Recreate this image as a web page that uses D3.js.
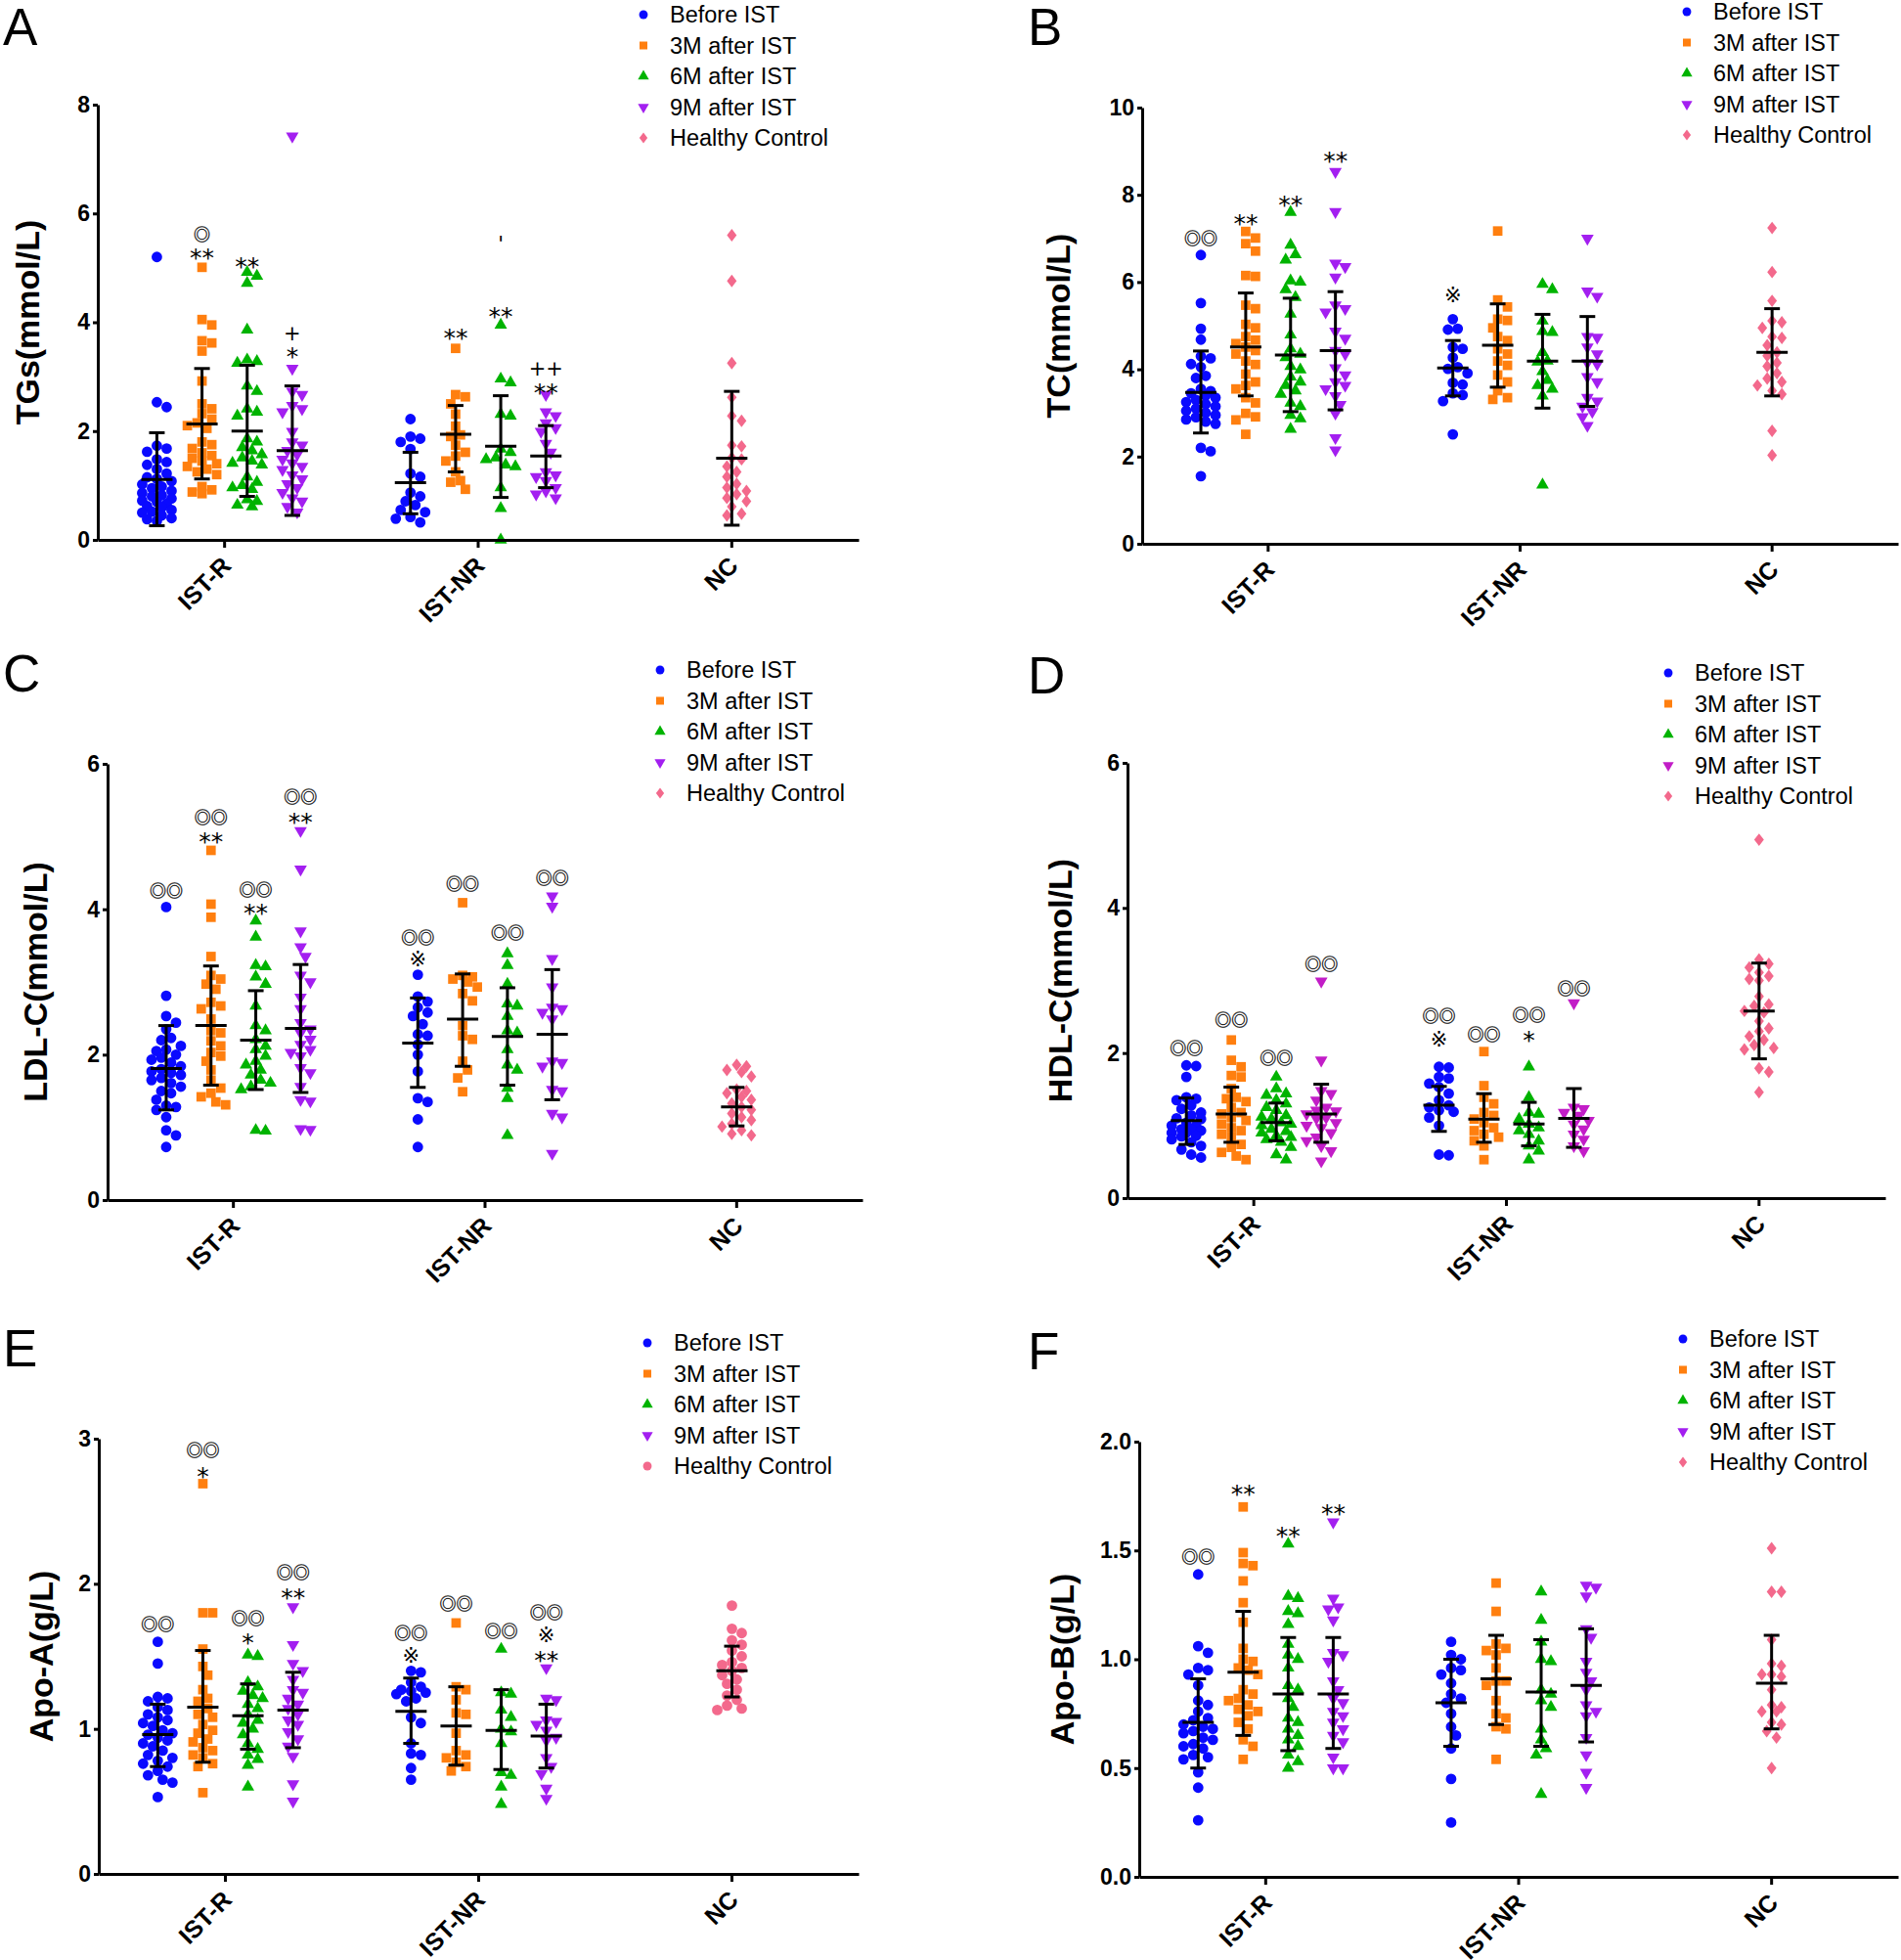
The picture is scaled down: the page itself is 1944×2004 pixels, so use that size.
<!DOCTYPE html>
<html>
<head>
<meta charset="utf-8">
<script src="https://cdn.jsdelivr.net/npm/d3@7"></script>
<style>
  body { margin: 0; background: #fff; }
  svg { display: block; font-family: "Liberation Sans", Arial, sans-serif; }
</style>
</head>
<body>
<script>
const groups = ['IST-R', 'IST-NR', 'NC'];
const seriesNames = ['Before IST', '3M after IST', '6M after IST', '9M after IST', 'Healthy Control'];
const seriesColors = ['#0a0aff', '#ff7f0f', '#00b300', '#a31ff0', '#f3698c'];

// ---- A: TGs ----
const tgR = [
  [5.2, 2.53, 2.44, 1.73, 1.68, 1.62, 1.48, 1.43, 1.38, 1.3, 1.22, 1.15, 1.12, 1.08, 1.02, 0.98, 0.95, 0.9, 0.86, 0.82, 0.8, 0.76, 0.72, 0.7, 0.66, 0.62, 0.6, 0.55, 0.52, 0.5, 0.45, 0.4, 0.38, 0.35],
  [5.01, 4.05, 3.95, 3.66, 3.62, 3.47, 2.92, 2.5, 2.41, 2.32, 2.22, 2.15, 2.1, 2.05, 1.8, 1.75, 1.68, 1.6, 1.55, 1.5, 1.45, 1.4, 1.35, 1.3, 1.25, 1.2, 0.98, 0.92, 0.88, 0.85],
  [4.92, 4.85, 4.72, 3.86, 3.31, 3.28, 3.25, 2.83, 2.73, 2.41, 2.35, 2.28, 1.86, 1.8, 1.7, 1.64, 1.57, 1.51, 1.45, 1.41, 1.38, 1.16, 1.06, 1.0, 0.96, 0.93, 0.74, 0.71, 0.64, 0.61],
  [7.42, 3.15, 2.73, 2.67, 2.47, 2.41, 2.35, 1.99, 1.8, 1.74, 1.64, 1.57, 1.48, 1.41, 1.35, 1.29, 1.19, 1.12, 1.03, 0.96, 0.87, 0.77, 0.71, 0.61, 0.51]
];
const tgNR = [
  [2.22, 1.9, 1.86, 1.8, 1.67, 1.22, 1.16, 0.87, 0.8, 0.71, 0.64, 0.55, 0.51, 0.42, 0.39, 0.32],
  [3.52, 2.67, 2.63, 2.5, 2.31, 2.09, 1.93, 1.9, 1.74, 1.61, 1.54, 1.45, 1.25, 1.09, 1.06, 0.93],
  [3.95, 2.96, 2.89, 2.31, 2.28, 1.67, 1.61, 1.51, 1.48, 1.38, 1.35, 0.96, 0.58, 0.0],
  [2.67, 2.35, 2.28, 2.15, 2.06, 1.99, 1.77, 1.61, 1.25, 1.19, 1.16, 1.09, 0.96, 0.9, 0.84, 0.77]
];
const tgNC = [5.6, 4.76, 3.25, 2.62, 2.28, 2.19, 1.74, 1.72, 1.51, 1.48, 1.35, 1.25, 1.16, 1.03, 0.96, 0.9, 0.84, 0.77, 0.71, 0.61, 0.48, 0.45];
const tgStats = [[1.11, 0.26, 1.97], [2.13, 1.12, 3.15], [2.0, 0.8, 3.21], [1.64, 0.45, 2.83],
  [1.05, 0.48, 1.61], [1.94, 1.25, 2.47], [1.72, 0.78, 2.65], [1.54, 0.96, 2.1], [1.5, 0.27, 2.73]];
const tgNotes = [[1, 5.62, '◎'], [1, 5.31, '**'], [2, 5.15, '**'], [3, 3.8, '+'], [3, 3.5, '*'],
  [5, 3.84, '**'], [6, 4.24, '**'], [6, 5.44, "'"], [7, 3.15, '++'], [7, 2.84, '**']];

// ---- B: TC ----
const tcR = [
  [6.62, 5.52, 4.93, 4.68, 4.3, 4.25, 4.12, 4.05, 3.85, 3.8, 3.55, 3.5, 3.45, 3.4, 3.35, 3.3, 3.25, 3.2, 3.15, 3.1, 3.05, 3.0, 2.95, 2.9, 2.85, 2.8, 2.75, 2.2, 2.12, 1.55],
  [7.16, 7.01, 6.88, 6.71, 6.15, 6.13, 5.47, 5.39, 5.03, 4.95, 4.75, 4.67, 4.59, 4.51, 4.43, 4.35, 4.19, 4.11, 3.89, 3.71, 3.63, 3.55, 3.35, 3.23, 2.99, 2.91, 2.84, 2.51],
  [7.6, 6.85, 6.63, 6.51, 6.03, 6.0, 5.83, 5.65, 5.27, 4.79, 4.47, 4.35, 4.27, 4.07, 3.99, 3.83, 3.71, 3.63, 3.51, 3.43, 3.23, 3.15, 2.95, 2.87, 2.63],
  [8.53, 7.61, 6.43, 6.35, 6.11, 5.47, 5.39, 5.31, 4.87, 4.71, 4.43, 4.35, 4.03, 3.87, 3.71, 3.63, 3.55, 3.39, 3.19, 2.99, 2.43, 2.15]
];
const tcNR = [
  [5.15, 4.93, 4.91, 4.51, 4.47, 4.27, 4.05, 4.01, 3.91, 3.69, 3.65, 3.45, 3.41, 3.27, 2.51],
  [7.17, 5.59, 5.43, 5.15, 5.12, 4.95, 4.75, 4.66, 4.47, 4.35, 4.19, 4.09, 3.87, 3.71, 3.51, 3.35, 3.31],
  [5.95, 5.83, 5.11, 4.87, 4.85, 4.39, 4.19, 4.17, 3.95, 3.75, 3.63, 3.55, 3.39, 1.35],
  [7.0, 5.79, 5.67, 4.75, 4.73, 4.51, 4.35, 4.15, 4.12, 3.83, 3.71, 3.35, 3.27, 3.15, 3.03, 2.91, 2.71]
];
const tcNC = [7.24, 6.23, 5.57, 5.11, 5.08, 4.95, 4.75, 4.72, 4.55, 4.39, 4.31, 4.15, 4.07, 3.91, 3.79, 3.71, 3.63, 3.51, 3.43, 2.59, 2.03];
const tcStats = [[3.47, 2.54, 4.42], [4.51, 3.39, 5.75], [4.33, 3.03, 5.63], [4.43, 3.07, 5.78],
  [4.03, 3.39, 4.66], [4.55, 3.59, 5.5], [4.19, 3.11, 5.26], [4.19, 3.15, 5.21], [4.39, 3.39, 5.39]];
const tcNotes = [[0, 7.0, '◎◎'], [1, 7.49, '**'], [2, 7.92, '**'], [3, 8.94, '**'], [4, 5.7, '※']];

// ---- C: LDL-C ----
const ldlR = [
  [4.03, 2.81, 2.53, 2.44, 2.35, 2.23, 2.2, 2.12, 2.07, 2.05, 2.0, 1.96, 1.93, 1.89, 1.84, 1.8, 1.77, 1.75, 1.72, 1.68, 1.65, 1.61, 1.56, 1.5, 1.47, 1.38, 1.3, 1.28, 1.24, 1.14, 0.96, 0.89, 0.73],
  [4.81, 4.07, 3.89, 3.35, 3.09, 3.04, 2.97, 2.9, 2.72, 2.67, 2.63, 2.49, 2.33, 2.3, 2.19, 2.12, 2.03, 1.98, 1.91, 1.79, 1.65, 1.54, 1.47, 1.42, 1.35, 1.31],
  [3.84, 3.62, 3.23, 3.21, 3.07, 2.97, 2.67, 2.4, 2.33, 2.21, 2.12, 2.07, 1.98, 1.91, 1.86, 1.79, 1.72, 1.65, 1.61, 1.56, 1.52, 0.96, 0.95],
  [5.08, 4.55, 3.7, 3.48, 3.35, 3.09, 3.0, 2.79, 2.63, 2.44, 2.35, 2.3, 2.21, 2.14, 2.07, 2.03, 1.98, 1.82, 1.75, 1.56, 1.38, 1.36, 0.98, 0.97]
];
const ldlNR = [
  [3.1, 2.8, 2.73, 2.65, 2.58, 2.53, 2.42, 2.28, 2.26, 2.14, 2.0, 1.77, 1.4, 1.35, 1.11, 0.73],
  [4.09, 3.09, 3.07, 3.04, 3.0, 2.93, 2.84, 2.74, 2.4, 2.26, 2.21, 1.91, 1.79, 1.68, 1.49],
  [3.39, 3.23, 2.97, 2.7, 2.67, 2.53, 2.33, 2.3, 2.07, 1.86, 1.79, 1.54, 1.4, 0.89],
  [4.18, 4.04, 3.32, 2.93, 2.65, 2.63, 2.58, 2.49, 1.91, 1.89, 1.84, 1.52, 1.5, 1.19, 1.14, 0.64]
];
const ldlNC = [1.86, 1.84, 1.79, 1.76, 1.7, 1.52, 1.5, 1.47, 1.42, 1.38, 1.33, 1.28, 1.24, 1.19, 1.14, 1.1, 1.05, 1.01, 0.96, 0.91, 0.89];
const ldlStats = [[1.81, 1.24, 2.4], [2.4, 1.58, 3.22], [2.2, 1.52, 2.88], [2.36, 1.48, 3.24],
  [2.16, 1.55, 2.78], [2.49, 1.84, 3.11], [2.25, 1.58, 2.92], [2.28, 1.38, 3.17], [1.28, 1.02, 1.55]];
const ldlNotes = [[0, 4.25, '◎◎'], [1, 5.26, '◎◎'], [1, 5.02, '**'], [2, 4.27, '◎◎'], [2, 4.04, '**'],
  [3, 5.55, '◎◎'], [3, 5.29, '**'], [4, 3.61, '◎◎'], [4, 3.32, '※'], [5, 4.35, '◎◎'], [6, 3.68, '◎◎'], [7, 4.43, '◎◎']];

// ---- D: HDL-C ----
const hdlR = [
  [1.83, 1.82, 1.67, 1.39, 1.37, 1.35, 1.28, 1.23, 1.18, 1.14, 1.1, 1.09, 1.04, 1.0, 1.0, 0.95, 0.95, 0.93, 0.9, 0.9, 0.86, 0.85, 0.81, 0.77, 0.72, 0.67, 0.6, 0.56],
  [2.18, 1.9, 1.81, 1.69, 1.67, 1.51, 1.39, 1.37, 1.33, 1.25, 1.18, 1.16, 1.11, 1.07, 1.02, 0.97, 0.93, 0.88, 0.84, 0.74, 0.7, 0.63, 0.58, 0.53],
  [1.67, 1.51, 1.44, 1.42, 1.35, 1.3, 1.25, 1.21, 1.14, 1.12, 1.09, 1.04, 1.02, 1.0, 0.95, 0.92, 0.9, 0.86, 0.84, 0.81, 0.77, 0.7, 0.6, 0.53],
  [2.99, 1.9, 1.48, 1.44, 1.35, 1.25, 1.21, 1.2, 1.16, 1.11, 1.1, 1.04, 1.0, 0.97, 0.9, 0.84, 0.79, 0.72, 0.65, 0.51]
];
const hdlNR = [
  [1.81, 1.8, 1.67, 1.65, 1.58, 1.53, 1.44, 1.35, 1.28, 1.25, 1.21, 1.19, 1.11, 1.0, 0.6, 0.59],
  [2.02, 1.55, 1.39, 1.3, 1.18, 1.14, 1.09, 1.04, 0.97, 0.93, 0.88, 0.84, 0.79, 0.72, 0.53],
  [1.81, 1.39, 1.18, 1.16, 1.09, 1.02, 0.97, 0.93, 0.88, 0.79, 0.72, 0.65, 0.53],
  [2.69, 1.25, 1.23, 1.18, 1.14, 1.07, 1.02, 0.95, 0.88, 0.81, 0.72, 0.65]
];
const hdlNC = [4.94, 3.29, 3.23, 3.18, 3.11, 3.06, 3.02, 3.0, 2.78, 2.67, 2.65, 2.58, 2.56, 2.44, 2.34, 2.3, 2.23, 2.18, 2.11, 2.07, 2.05, 1.79, 1.74, 1.46];
const hdlStats = [[1.07, 0.74, 1.38], [1.16, 0.77, 1.53], [1.04, 0.79, 1.31], [1.16, 0.77, 1.57],
  [1.28, 0.92, 1.54], [1.09, 0.77, 1.44], [1.02, 0.72, 1.32], [1.1, 0.7, 1.51], [2.58, 1.92, 3.24]];
const hdlNotes = [[0, 2.06, '◎◎'], [1, 2.46, '◎◎'], [2, 1.93, '◎◎'], [3, 3.23, '◎◎'], [4, 2.51, '◎◎'], [4, 2.19, '※'],
  [5, 2.26, '◎◎'], [6, 2.52, '◎◎'], [6, 2.27, '*'], [7, 2.89, '◎◎']];

// ---- E: Apo-A ----
const apoaR = [
  [1.6, 1.45, 1.22, 1.21, 1.19, 1.15, 1.13, 1.1, 1.08, 1.06, 1.04, 1.02, 0.99, 0.97, 0.96, 0.94, 0.92, 0.9, 0.88, 0.85, 0.82, 0.8, 0.78, 0.76, 0.74, 0.71, 0.68, 0.65, 0.63, 0.53],
  [2.69, 1.8, 1.8, 1.55, 1.43, 1.37, 1.27, 1.21, 1.19, 1.14, 1.1, 1.08, 1.03, 0.99, 0.97, 0.93, 0.91, 0.87, 0.85, 0.82, 0.8, 0.76, 0.74, 0.56],
  [1.51, 1.5, 1.32, 1.29, 1.26, 1.23, 1.21, 1.17, 1.14, 1.1, 1.06, 1.04, 1.0, 0.96, 0.9, 0.86, 0.82, 0.79, 0.75, 0.6],
  [1.84, 1.58, 1.45, 1.4, 1.34, 1.27, 1.25, 1.21, 1.17, 1.14, 1.1, 1.06, 1.03, 0.98, 0.93, 0.88, 0.81, 0.62, 0.5]
];
const apoaNR = [
  [1.4, 1.39, 1.32, 1.29, 1.27, 1.26, 1.25, 1.24, 1.21, 1.19, 1.08, 1.04, 0.9, 0.83, 0.82, 0.73, 0.65],
  [1.73, 1.29, 1.27, 1.2, 1.11, 1.1, 0.97, 0.85, 0.82, 0.8, 0.77, 0.74, 0.71],
  [1.55, 1.25, 1.24, 1.13, 1.08, 1.0, 0.98, 0.9, 0.7, 0.68, 0.6, 0.48],
  [1.42, 1.21, 1.2, 1.06, 1.05, 1.03, 0.99, 0.94, 0.92, 0.8, 0.74, 0.69, 0.59, 0.52]
];
const apoaNC = [1.85, 1.69, 1.66, 1.61, 1.58, 1.54, 1.5, 1.46, 1.44, 1.42, 1.4, 1.37, 1.34, 1.31, 1.27, 1.23, 1.2, 1.16, 1.14, 1.13];
const apoaStats = [[0.96, 0.74, 1.17], [1.15, 0.77, 1.54], [1.09, 0.86, 1.31], [1.13, 0.87, 1.39],
  [1.12, 0.9, 1.35], [1.02, 0.75, 1.29], [0.99, 0.72, 1.27], [0.95, 0.73, 1.17], [1.4, 1.22, 1.57]];
const apoaNotes = [[0, 1.72, '◎◎'], [1, 2.92, '◎◎'], [1, 2.79, '*'], [2, 1.76, '◎◎'], [2, 1.64, '*'],
  [3, 2.08, '◎◎'], [3, 1.95, '**'], [4, 1.66, '◎◎'], [4, 1.51, '※'], [5, 1.86, '◎◎'], [6, 1.67, '◎◎'],
  [7, 1.8, '◎◎'], [7, 1.65, '※'], [7, 1.52, '**']];

// ---- F: Apo-B ----
const apobR = [
  [1.39, 1.06, 1.03, 0.96, 0.95, 0.93, 0.88, 0.81, 0.79, 0.76, 0.73, 0.72, 0.7, 0.69, 0.68, 0.67, 0.66, 0.64, 0.63, 0.61, 0.6, 0.59, 0.56, 0.55, 0.54, 0.48, 0.41, 0.26],
  [1.7, 1.49, 1.44, 1.43, 1.36, 1.26, 1.17, 1.05, 1.0, 0.99, 0.96, 0.95, 0.93, 0.86, 0.84, 0.82, 0.81, 0.79, 0.77, 0.76, 0.74, 0.71, 0.68, 0.63, 0.6, 0.54],
  [1.53, 1.29, 1.28, 1.22, 1.21, 1.16, 1.07, 1.02, 1.0, 0.96, 0.88, 0.86, 0.82, 0.78, 0.73, 0.71, 0.68, 0.65, 0.63, 0.6, 0.56, 0.53, 0.5],
  [1.63, 1.28, 1.24, 1.23, 1.18, 1.03, 1.02, 0.99, 0.9, 0.86, 0.82, 0.8, 0.76, 0.74, 0.71, 0.68, 0.65, 0.62, 0.55, 0.5, 0.5]
];
const apobNR = [
  [1.08, 1.02, 1.0, 0.96, 0.95, 0.93, 0.89, 0.84, 0.82, 0.8, 0.75, 0.69, 0.65, 0.59, 0.45, 0.25],
  [1.35, 1.22, 1.07, 1.05, 1.04, 1.02, 0.96, 0.9, 0.9, 0.88, 0.81, 0.75, 0.73, 0.69, 0.68, 0.54],
  [1.31, 1.18, 1.08, 1.0, 0.99, 0.86, 0.84, 0.81, 0.78, 0.68, 0.63, 0.59, 0.56, 0.38],
  [1.34, 1.33, 1.29, 1.14, 1.1, 0.99, 0.94, 0.9, 0.86, 0.79, 0.76, 0.74, 0.64, 0.56, 0.48, 0.41]
];
const apobNC = [1.51, 1.31, 1.31, 1.09, 0.98, 0.97, 0.93, 0.93, 0.92, 0.86, 0.79, 0.78, 0.76, 0.76, 0.71, 0.7, 0.67, 0.64, 0.5];
const apobStats = [[0.71, 0.5, 0.91], [0.94, 0.65, 1.22], [0.84, 0.58, 1.1], [0.84, 0.59, 1.1],
  [0.8, 0.6, 1.0], [0.91, 0.7, 1.11], [0.85, 0.6, 1.09], [0.88, 0.62, 1.14], [0.89, 0.68, 1.11]];
const apobNotes = [[0, 1.47, '◎◎'], [1, 1.79, '**'], [2, 1.6, '**'], [3, 1.7, '**']];

// panel frames (pixel layout)
const panels = [
  {letter: 'A', title: 'TGs(mmol/L)', R: tgR, NR: tgNR, NC: tgNC, stats: tgStats, notes: tgNotes,
    max: 8, ticks: [0, 2, 4, 6, 8], fmt: d3.format('d'), x0: 100, x1: 878, yt: 107, yb: 552,
    legX: 658, legY: 15, letX: 3, letY: 46, labX: 40},
  {letter: 'B', title: 'TC(mmol/L)', R: tcR, NR: tcNR, NC: tcNC, stats: tcStats, notes: tcNotes,
    max: 10, ticks: [0, 2, 4, 6, 8, 10], fmt: d3.format('d'), x0: 1168, x1: 1941, yt: 110, yb: 556,
    legX: 1725, legY: 12, letX: 1051, letY: 46, labX: 1094},
  {letter: 'C', title: 'LDL-C(mmol/L)', R: ldlR, NR: ldlNR, NC: ldlNC, stats: ldlStats, notes: ldlNotes,
    max: 6, ticks: [0, 2, 4, 6], fmt: d3.format('d'), x0: 110, x1: 882, yt: 781, yb: 1227,
    legX: 675, legY: 685, letX: 3, letY: 707, labX: 48},
  {letter: 'D', title: 'HDL-C(mmol/L)', R: hdlR, NR: hdlNR, NC: hdlNC, stats: hdlStats, notes: hdlNotes,
    max: 6, ticks: [0, 2, 4, 6], fmt: d3.format('d'), x0: 1153, x1: 1928, yt: 780, yb: 1225,
    legX: 1706, legY: 688, letX: 1051, letY: 709, labX: 1096, purple: '#c21dc7'},
  {letter: 'E', title: 'Apo-A(g/L)', R: apoaR, NR: apoaNR, NC: apoaNC, stats: apoaStats, notes: apoaNotes,
    max: 3, ticks: [0, 1, 2, 3], fmt: d3.format('d'), x0: 101, x1: 878, yt: 1471, yb: 1916,
    legX: 662, legY: 1373, letX: 3, letY: 1397, labX: 54, ncCircle: true},
  {letter: 'F', title: 'Apo-B(g/L)', R: apobR, NR: apobNR, NC: apobNC, stats: apobStats, notes: apobNotes,
    max: 2, ticks: [0, 0.5, 1, 1.5, 2], fmt: d3.format('.1f'), x0: 1165, x1: 1941, yt: 1474, yb: 1919,
    legX: 1721, legY: 1369, letX: 1051, letY: 1400, labX: 1098}
];

const svg = d3.select('body').append('svg')
  .attr('width', 1944)
  .attr('height', 2004);

// squat diamond like the Prism marker
const diamond = {
  draw: (ctx, size) => {
    const w = Math.sqrt(size / 0.65) / 2, h = w * 1.3;
    ctx.moveTo(0, -h); ctx.lineTo(w, 0); ctx.lineTo(0, h); ctx.lineTo(-w, 0); ctx.closePath();
  }
};

function shapeFor(i, p) {
  if (i === 0) return d3.symbolCircle;
  if (i === 1) return d3.symbolSquare;
  if (i === 2 || i === 3) return d3.symbolTriangle;
  return p.ncCircle ? d3.symbolCircle : diamond;
}
function sizeFor(i, p) {
  return [92, 95, 72, 72, p.ncCircle ? 92 : 64][i];
}
function colorFor(i, p) {
  if (i === 3 && p.purple) return p.purple;
  return seriesColors[i];
}

// simple beeswarm: spread points sideways when they collide
function swarm(vals, y, d) {
  const pts = vals.map(v => ({v: v, py: y(v), dx: 0})).sort((a, b) => a.py - b.py);
  const placed = [];
  pts.forEach(p => {
    let chosen = null, best = -1, bestOff = 0;
    for (let k = 0; k <= 3 && chosen === null; k++) {
      const sides = k === 0 ? [0] : [1, -1];
      for (const s of sides) {
        const off = s * k * d * 0.5;
        let minD = Infinity;
        placed.forEach(q => {
          const dd = Math.hypot(q.dx - off, q.py - p.py);
          if (dd < minD) minD = dd;
        });
        if (minD >= d) { chosen = off; break; }
        if (minD > best) { best = minD; bestOff = off; }
      }
    }
    p.dx = chosen !== null ? chosen : bestOff;
    placed.push(p);
  });
  return pts;
}

panels.forEach(p => {
  const g = svg.append('g');
  const y = d3.scaleLinear().domain([0, p.max]).range([p.yb, p.yt]);
  const x = d3.scaleBand().domain(groups).range([p.x0, p.x1]);
  const bw = x.bandwidth();
  const sub = d3.scalePoint().domain([0, 1, 2, 3]).range([-0.267 * bw, 0.267 * bw]);

  const series = [];
  [p.R, p.NR].forEach((arr, gi) => {
    arr.forEach((vals, i) => {
      series.push({vals: vals, cx: x(groups[gi]) + bw / 2 + sub(i), kind: i});
    });
  });
  series.push({vals: p.NC, cx: x('NC') + bw / 2, kind: 4});

  // points
  series.forEach(s => {
    const pts = swarm(s.vals, y, 10);
    const sym = d3.symbol().type(shapeFor(s.kind, p)).size(sizeFor(s.kind, p));
    g.append('g').selectAll('path')
      .data(pts)
      .join('path')
      .attr('d', sym)
      .attr('transform', d => `translate(${s.cx + d.dx},${d.py})` + (s.kind === 3 ? ' rotate(180)' : ''))
      .attr('fill', colorFor(s.kind, p));
  });

  // mean +- SD bars
  series.forEach((s, si) => {
    const st = p.stats[si];
    const eb = g.append('g').attr('stroke', '#000').attr('stroke-width', 3).attr('fill', 'none');
    eb.append('line').attr('x1', s.cx).attr('x2', s.cx).attr('y1', y(st[1])).attr('y2', y(st[2]));
    eb.append('line').attr('x1', s.cx - 8).attr('x2', s.cx + 8).attr('y1', y(st[1])).attr('y2', y(st[1]));
    eb.append('line').attr('x1', s.cx - 8).attr('x2', s.cx + 8).attr('y1', y(st[2])).attr('y2', y(st[2]));
    eb.append('line').attr('x1', s.cx - 16).attr('x2', s.cx + 16).attr('y1', y(st[0])).attr('y2', y(st[0]));
  });

  // significance marks
  const isRing = t => t.indexOf('◎') >= 0;
  const isStar = t => t.indexOf('*') >= 0;
  g.append('g').selectAll('text')
    .data(p.notes)
    .join('text')
    .attr('x', d => series[d[0]].cx)
    .attr('y', d => y(d[1]))
    .attr('dy', d => isStar(d[2]) ? '0.62em' : '0.36em')
    .attr('text-anchor', 'middle')
    .attr('font-family', d => isRing(d[2]) ? '"Noto Sans CJK SC", "DejaVu Sans", sans-serif' : '"DejaVu Sans", "Noto Sans CJK SC", sans-serif')
    .attr('font-size', d => isRing(d[2]) ? 17 : (isStar(d[2]) ? 25 : 21))
    .attr('fill', d => isRing(d[2]) ? '#1a1a1a' : '#000')
    .attr('stroke', d => isRing(d[2]) ? '#1a1a1a' : null)
    .attr('stroke-width', d => isRing(d[2]) ? 0.4 : null)
    .text(d => d[2]);

  // axes
  const yAxis = g.append('g')
    .attr('transform', `translate(${p.x0},0)`)
    .call(d3.axisLeft(y).tickValues(p.ticks).tickFormat(p.fmt).tickSize(5).tickSizeOuter(0).tickPadding(3));
  yAxis.select('.domain').attr('stroke-width', 3);
  yAxis.selectAll('.tick line').attr('stroke-width', 3);
  yAxis.selectAll('.tick text').attr('font-size', 23).attr('font-weight', 'bold')
    .attr('font-family', '"Liberation Sans Narrow", "Liberation Sans", Arial, sans-serif').attr('fill', '#000');

  const xAxis = g.append('g')
    .attr('transform', `translate(0,${p.yb})`)
    .call(d3.axisBottom(x).tickSize(8).tickSizeOuter(0).tickFormat(''));
  xAxis.select('.domain').attr('stroke-width', 3);
  xAxis.selectAll('.tick line').attr('stroke-width', 3);

  g.append('g').selectAll('text')
    .data(groups)
    .join('text')
    .attr('transform', d => `translate(${x(d) + bw / 2 + 8},${p.yb + 28}) rotate(-45)`)
    .attr('text-anchor', 'end')
    .attr('font-size', 25)
    .attr('font-weight', 'bold')
    .text(d => d);

  // y title
  g.append('text')
    .attr('transform', `translate(${p.labX},${(p.yt + p.yb) / 2}) rotate(-90)`)
    .attr('text-anchor', 'middle')
    .attr('font-size', 34)
    .attr('font-weight', 'bold')
    .text(p.title);

  // panel letter
  g.append('text')
    .attr('x', p.letX)
    .attr('y', p.letY)
    .attr('font-size', 53)
    .text(p.letter);

  // legend
  const leg = g.append('g').attr('transform', `translate(${p.legX},${p.legY})`);
  seriesNames.forEach((name, i) => {
    const row = leg.append('g').attr('transform', `translate(0,${i * 31.5})`);
    const sym = d3.symbol().type(shapeFor(i, p)).size([62, 64, 55, 55, p.ncCircle ? 62 : 45][i]);
    row.append('path')
      .attr('d', sym)
      .attr('transform', i === 3 ? 'rotate(180)' : null)
      .attr('fill', colorFor(i, p));
    row.append('text')
      .attr('x', 27)
      .attr('dy', '0.35em')
      .attr('font-size', 23.5)
      .text(name);
  });
});
</script>
</body>
</html>
